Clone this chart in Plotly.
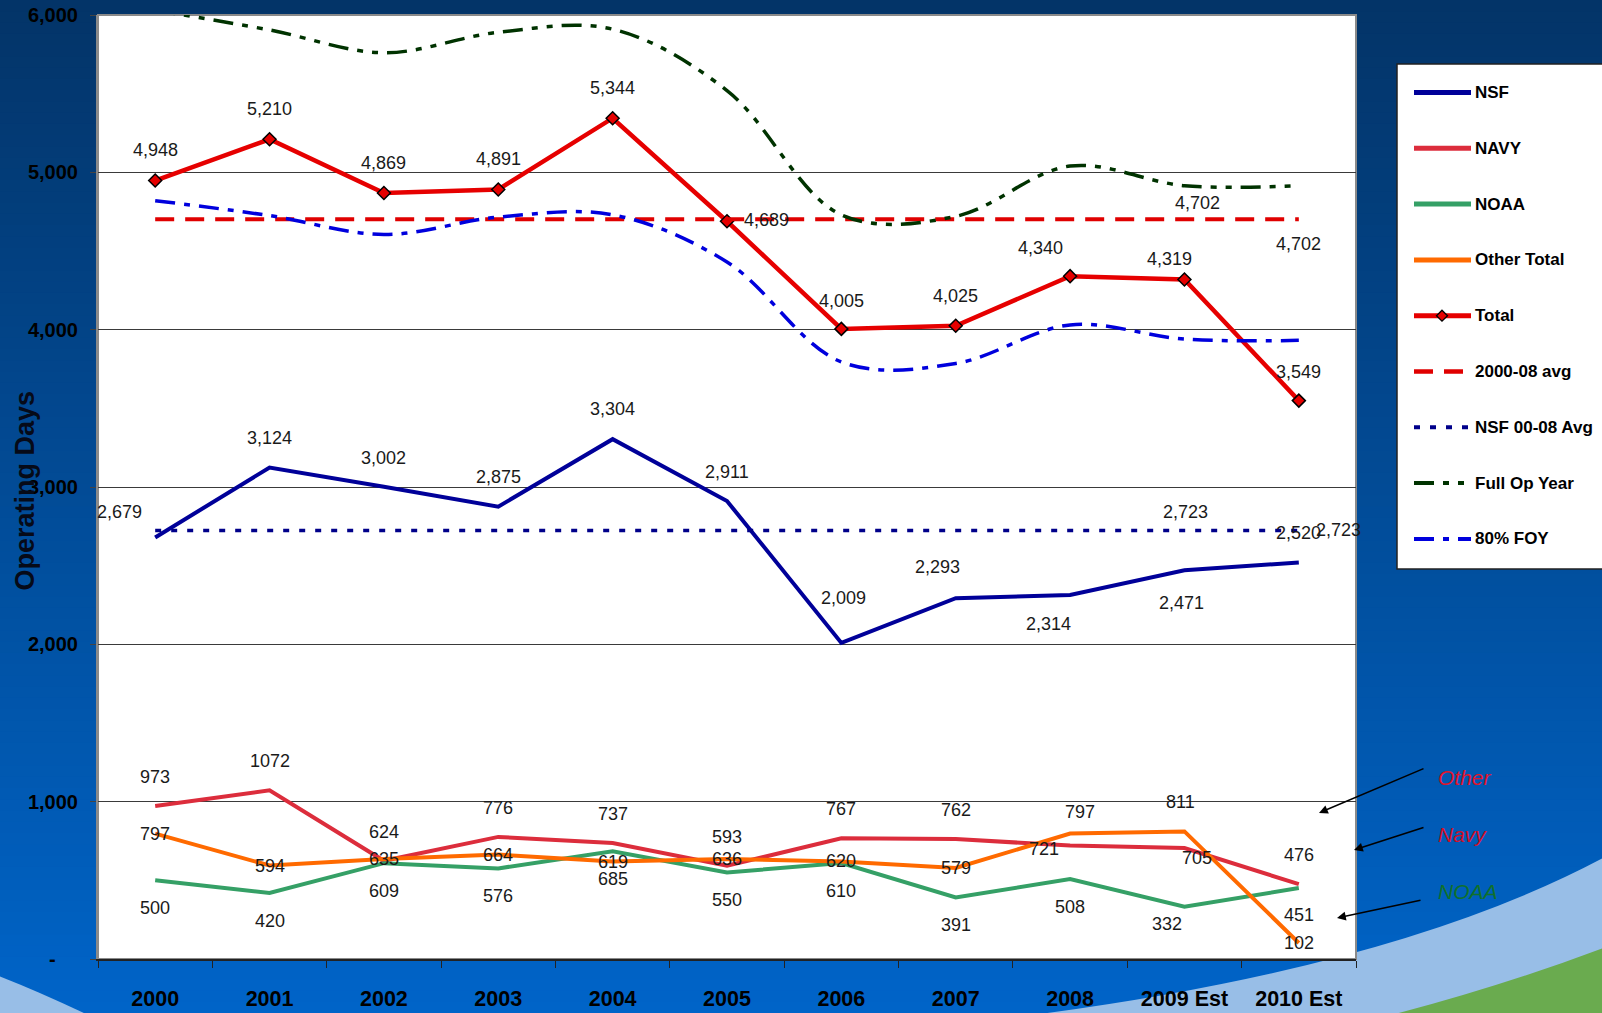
import plotly.graph_objects as go

# ---------------- data ----------------
years = ["2000", "2001", "2002", "2003", "2004", "2005", "2006", "2007", "2008", "2009 Est", "2010 Est"]
nsf = [2679, 3124, 3002, 2875, 3304, 2911, 2009, 2293, 2314, 2471, 2520]
navy = [973, 1072, 624, 776, 737, 593, 767, 762, 721, 705, 476]
noaa = [500, 420, 609, 576, 685, 550, 610, 391, 508, 332, 451]
other = [797, 594, 635, 664, 619, 636, 620, 579, 797, 811, 102]
total = [4948, 5210, 4869, 4891, 5344, 4689, 4005, 4025, 4340, 4319, 3549]
avg_00_08 = [4702] * 11
nsf_avg = [2723] * 11
full_op_year = [6030, 5905, 5760, 5890, 5910, 5520, 4730, 4720, 5040, 4915, 4915]
foy_80 = [4820, 4725, 4605, 4715, 4730, 4430, 3795, 3785, 4030, 3940, 3932]

y_tickvals = [0, 1000, 2000, 3000, 4000, 5000, 6000]
y_ticktext = ["-\u00a0\u00a0\u00a0\u00a0", "1,000", "2,000", "3,000", "4,000", "5,000", "6,000"]

# ---------------- layout geometry ----------------
W, H = 1602, 1013
ML, MR, MT, MB = 98, 246, 15, 54
PW, PH = W - ML - MR, H - MT - MB
FONT = "Arial, Liberation Sans, sans-serif"


def px(x, y):
    return (x - ML) / PW, (H - MB - y) / PH


def path(cmds):
    out = []
    for c in cmds:
        if isinstance(c, str):
            out.append(c)
        else:
            a, b = px(*c)
            out.append(f"{a:.5f},{b:.5f}")
    return " ".join(out)


fig = go.Figure()

C_NSF = "#000099"
C_NAVY = "#dc2d3c"
C_NOAA = "#35a066"
C_OTHER = "#ff6a00"
C_TOTAL = "#e60000"
C_AVG = "#e00000"
C_NSFAVG = "#00008a"
C_FOY = "#003300"
C_FOY80 = "#0000dd"

D_AVG = "19px,11px"
D_NSFAVG = "6px,10px"
D_FOY = "20px,9px,6px,9px,6px,9px"
D_FOY80 = "20px,9px,6px,9px"

fig.add_trace(go.Scatter(x=years, y=nsf, mode="lines", line=dict(color=C_NSF, width=4), name="NSF"))
fig.add_trace(go.Scatter(x=years, y=navy, mode="lines", line=dict(color=C_NAVY, width=4), name="NAVY"))
fig.add_trace(go.Scatter(x=years, y=noaa, mode="lines", line=dict(color=C_NOAA, width=4), name="NOAA"))
fig.add_trace(go.Scatter(x=years, y=other, mode="lines", line=dict(color=C_OTHER, width=4), name="Other Total"))
fig.add_trace(go.Scatter(x=years, y=total, mode="lines+markers", line=dict(color=C_TOTAL, width=4.5),
                         marker=dict(symbol="diamond", size=10, color=C_TOTAL, line=dict(color="black", width=1.5)),
                         name="Total"))
fig.add_trace(go.Scatter(x=years, y=avg_00_08, mode="lines", line=dict(color=C_AVG, width=4, dash=D_AVG), name="2000-08 avg"))
fig.add_trace(go.Scatter(x=years, y=nsf_avg, mode="lines", line=dict(color=C_NSFAVG, width=3.5, dash=D_NSFAVG), name="NSF 00-08 Avg"))
fig.add_trace(go.Scatter(x=years, y=full_op_year, mode="lines", line=dict(color=C_FOY, width=3.5, dash=D_FOY, shape="spline"),
                         name="Full Op Year"))
fig.add_trace(go.Scatter(x=years, y=foy_80, mode="lines", line=dict(color=C_FOY80, width=3.5, dash=D_FOY80, shape="spline"),
                         name="80% FOY"))

# ---------------- data labels ----------------
annotations = []


def add_labels(vals, offsets, fmt):
    for i, (v, off) in enumerate(zip(vals, offsets)):
        if off is None:
            continue
        # category axis: annotation x given as category index
        annotations.append(dict(x=i, y=v, xref="x", yref="y", text=fmt(v), showarrow=False,
                                xshift=off[0], yshift=off[1], font=dict(family=FONT, size=18, color="#1a1a1a")))


comma = lambda v: f"{v:,}"
plain = lambda v: f"{v}"

add_labels(total, [(0, 31), (0, 30), (0, 30), (0, 30), (0, 30), (39, 1), (0, 28), (0, 30), (-30, 28), (-15, 20), (0, 29)], comma)
add_labels(nsf, [(-36, 26), (0, 29), (0, 29), (0, 30), (0, 30), (0, 29), (2, 45), (-18, 31), (-22, -29), (-3, -33), (0, 30)], comma)
add_labels(navy, [(0, 29)] * 8 + [(-26, -3), (13, -10), (0, 29)], plain)
add_labels(noaa, [(0, -28)] * 9 + [(-17, -17), (0, -27)], plain)
add_labels(other, [(0, 0)] * 8 + [(10, 22), (-4, 29), (0, 0)], plain)
add_labels(avg_00_08, [None] * 9 + [(13, 16), (0, -25)], comma)
add_labels(nsf_avg, [None] * 9 + [(1, 19), (40, 1)], comma)

# ---------------- background shapes ----------------
shapes = []
N = 90
top_c = (3, 52, 104)
bot_c = (0, 100, 200)
for i in range(N):
    t = i / (N - 1)
    col = tuple(round(top_c[k] + (bot_c[k] - top_c[k]) * t) for k in range(3))
    y0 = H * i / N
    y1 = H * (i + 1) / N + 1
    x0p, y0p = px(0, y0)
    x1p, y1p = px(W, y1)
    shapes.append(dict(type="rect", xref="paper", yref="paper", x0=x0p, x1=x1p, y0=y1p, y1=y0p,
                       fillcolor=f"rgb{col}", line=dict(width=0), layer="below"))

LIGHT = "#98bee7"
GREEN = "#6aab4f"
shapes.append(dict(type="path", xref="paper", yref="paper", layer="below", fillcolor=LIGHT, line=dict(width=0),
                   path=path(["M", (1040, 1014), "Q", (1400, 966), (1603, 858), "L", (1603, 1014), "Z"])))
shapes.append(dict(type="path", xref="paper", yref="paper", layer="below", fillcolor=GREEN, line=dict(width=0),
                   path=path(["M", (1395, 1014), "Q", (1505, 985), (1603, 948), "L", (1603, 1014), "Z"])))
shapes.append(dict(type="path", xref="paper", yref="paper", layer="below", fillcolor=LIGHT, line=dict(width=0),
                   path=path(["M", (-1, 976), "Q", (40, 992), (86, 1014), "L", (-1, 1014), "Z"])))
# plot area
shapes.append(dict(type="rect", xref="paper", yref="paper", x0=0, x1=1, y0=0, y1=1, fillcolor="white",
                   line=dict(color="#8a8a8a", width=2), layer="below"))

# ---------------- manual legend ----------------
lx0, ly0 = px(1397, 64)
lx1, ly1 = px(1615, 569)
shapes.append(dict(type="rect", xref="paper", yref="paper", x0=lx0, x1=lx1, y0=ly1, y1=ly0, fillcolor="white",
                   line=dict(color="#222222", width=1.5), layer="above"))
legend_items = [
    ("NSF", C_NSF, "solid", 5),
    ("NAVY", C_NAVY, "solid", 5),
    ("NOAA", C_NOAA, "solid", 5),
    ("Other Total", C_OTHER, "solid", 5),
    ("Total", C_TOTAL, "solid", 5),
    ("2000-08 avg", C_AVG, D_AVG, 4.5),
    ("NSF 00-08 Avg", C_NSFAVG, D_NSFAVG, 4),
    ("Full Op Year", C_FOY, D_FOY, 4),
    ("80% FOY", C_FOY80, D_FOY80, 4),
]
for i, (name, col, dash, w) in enumerate(legend_items):
    yy = 92.5 + 55.8 * i
    xa, ya = px(1414, yy)
    xb, _ = px(1471, yy)
    shapes.append(dict(type="line", xref="paper", yref="paper", x0=xa, x1=xb, y0=ya, y1=ya,
                       line=dict(color=col, width=w, dash=dash), layer="above"))
    tx, ty = px(1473, yy)
    annotations.append(dict(x=tx, y=ty, xref="paper", yref="paper", text=f"<b>{name}</b>", showarrow=False,
                            xanchor="left", yanchor="middle", font=dict(family=FONT, size=17, color="black")))
    if name == "Total":
        shapes.append(dict(type="path", xref="paper", yref="paper", layer="above", fillcolor=C_TOTAL,
                           line=dict(color="black", width=1.3),
                           path=path(["M", (1442, yy - 5.5), "L", (1447.5, yy), "L", (1442, yy + 5.5), "L", (1436.5, yy), "Z"])))

# ---------------- side annotations (Other / Navy / NOAA) ----------------
for txt, col, (tx_, ty_), (hx, hy), (sx, sy) in [
    ("Other", "#e0142c", (1465, 777), (1319, 813), (1425, 768)),
    ("Navy", "#d0102a", (1463, 834), (1354, 850), (1425, 827)),
    ("NOAA", "#10702c", (1468, 891), (1337, 918), (1422, 900)),
]:
    a, b = px(tx_, ty_)
    annotations.append(dict(x=a, y=b, xref="paper", yref="paper", text=f"<i>{txt}</i>", showarrow=False,
                            xanchor="center", yanchor="middle", font=dict(family=FONT, size=21, color=col)))
    a, b = px(hx, hy)
    annotations.append(dict(x=a, y=b, xref="paper", yref="paper", text="", showarrow=True,
                            axref="pixel", ayref="pixel", ax=sx - hx, ay=sy - hy,
                            arrowhead=2, arrowsize=1.1, arrowwidth=1.6, arrowcolor="black"))

# y axis title
a, b = px(24.5, 491)
annotations.append(dict(x=a, y=b, xref="paper", yref="paper", text="<b>Operating Days</b>", showarrow=False,
                        textangle=-90, xanchor="center", yanchor="middle",
                        font=dict(family=FONT, size=27, color="#060a18")))

fig.update_layout(
    width=W, height=H,
    margin=dict(l=ML, r=MR, t=MT, b=MB, autoexpand=False),
    paper_bgcolor="rgb(3,52,104)",
    plot_bgcolor="white",
    showlegend=False,
    shapes=shapes,
    annotations=annotations,
    xaxis=dict(type="category", categoryorder="array", categoryarray=years, tickson="boundaries",
               ticks="outside", ticklen=7, tickwidth=1.2, tickcolor="#222",
               showline=True, linecolor="#222", linewidth=2, showgrid=False, zeroline=False,
               tickfont=dict(family=FONT, size=21.5, color="black", weight="bold"),
               ticklabelstandoff=19, range=[-0.5, 10.5]),
    yaxis=dict(range=[0, 6000], tickvals=y_tickvals, ticktext=y_ticktext, ticks="outside", ticklen=6,
               tickcolor="#444", tickwidth=1.2, showline=True, linecolor="#8a8a8a", linewidth=2,
               showgrid=True, gridcolor="#3a3a3a", gridwidth=1, zeroline=False,
               tickfont=dict(family=FONT, size=20, color="black", weight="bold"), ticklabelstandoff=8),
)

fig.write_html("out.html", config={"displayModeBar": False},
               post_script="document.body.style.margin='0';document.body.style.overflow='hidden';")
